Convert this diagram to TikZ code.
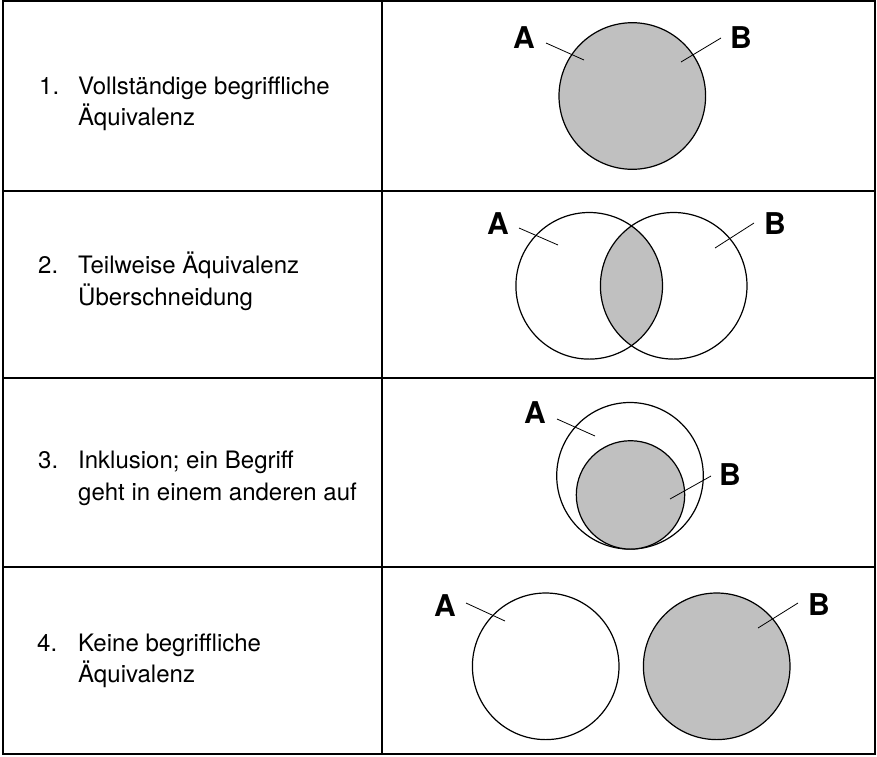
\documentclass[tikz,border=0pt]{standalone}
\usepackage{fontspec}
\setmainfont{TeX Gyre Heros}
\definecolor{venngray}{RGB}{192,192,192}
\begin{document}
\begin{tikzpicture}[x=1pt,y=-1pt,
  frame/.style={line width=1.5pt},
  ring/.style={draw,line width=1.2pt},
  filled/.style={ring,fill=venngray},
  leader/.style={line width=0.8pt},
  caption/.style={anchor=base west,inner sep=0pt,font=\fontsize{24}{29}\selectfont},
  tag/.style={inner sep=0pt,font=\fontsize{30}{35}\selectfont\bfseries}]
\useasboundingbox (0,0) rectangle (877,756);

% table grid
\draw[frame] (3,1) rectangle (875,754);
\draw[frame] (382,1) -- (382,754);
\draw[frame] (3,191) -- (875,191);
\draw[frame] (3,378) -- (875,378);
\draw[frame] (3,567) -- (875,567);

% left column captions
\node[caption] (n1) at (39,94) {1.};
\node[caption] (t1a) at (78,94) {Vollständige begriffliche};
\node[caption] (t1b) at (78,125) {Äquivalenz};
\node[caption] (n2) at (38,273) {2.};
\node[caption] (t2a) at (78,273) {Teilweise Äquivalenz};
\node[caption] (t2b) at (78,305) {Überschneidung};
\node[caption] (n3) at (38,468) {3.};
\node[caption] (t3a) at (78,468) {Inklusion; ein Begriff};
\node[caption] (t3b) at (78,500) {geht in einem anderen auf};
\node[caption] (n4) at (37,651) {4.};
\node[caption] (t4a) at (78,651) {Keine begriffliche};
\node[caption] (t4b) at (78,682) {Äquivalenz};

% 1: complete equivalence
\draw[filled] (632.3,96) circle (73.3);
\node[tag] (a1) at (524,38) {A};
\node[tag] (b1) at (741,38) {B};
\coordinate (a1s) at (546,43); \coordinate (a1e) at (584,60);
\coordinate (b1s) at (721,38); \coordinate (b1e) at (681,62);
\draw[leader] (a1s) -- (a1e);
\draw[leader] (b1s) -- (b1e);

% 2: partial overlap
\begin{scope}
  \clip (589.2,285.8) circle (73.3);
  \fill[venngray] (673.7,285.8) circle (73.3);
\end{scope}
\draw[ring] (589.2,285.8) circle (73.3);
\draw[ring] (673.7,285.8) circle (73.3);
\node[tag] (a2) at (498,224) {A};
\node[tag] (b2) at (775,224) {B};
\coordinate (a2s) at (519,228); \coordinate (a2e) at (558,245);
\coordinate (b2s) at (754,223); \coordinate (b2e) at (715,248);
\draw[leader] (a2s) -- (a2e);
\draw[leader] (b2s) -- (b2e);

% 3: inclusion
\draw[ring] (630,475.8) circle (73.3);
\draw[filled] (630.5,494.9) circle (54.2);
\node[tag] (a3) at (535,413) {A};
\node[tag] (b3) at (730,475) {B};
\coordinate (a3s) at (557,419); \coordinate (a3e) at (595,436);
\coordinate (b3s) at (711,476); \coordinate (b3e) at (670,499);
\draw[leader] (a3s) -- (a3e);
\draw[leader] (b3s) -- (b3e);

% 4: disjoint
\draw[ring] (545.7,666.3) circle (73.3);
\draw[filled] (716.7,666.3) circle (73.3);
\node[tag] (a4) at (445,606) {A};
\node[tag] (b4) at (819,605) {B};
\coordinate (a4s) at (466,603); \coordinate (a4e) at (505,621);
\coordinate (b4s) at (798,603); \coordinate (b4e) at (758,628);
\draw[leader] (a4s) -- (a4e);
\draw[leader] (b4s) -- (b4e);
\end{tikzpicture}
\end{document}
